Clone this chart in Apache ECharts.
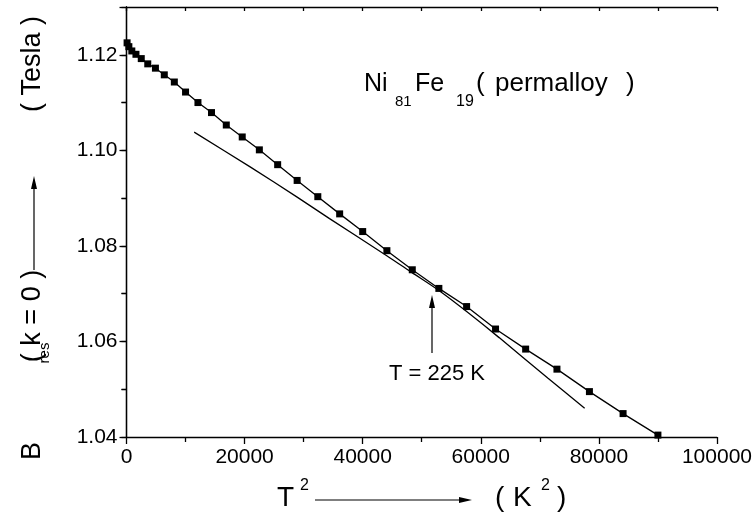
<!DOCTYPE html>
<html><head><meta charset="utf-8">
<script src="https://cdn.jsdelivr.net/npm/echarts@6/dist/echarts.min.js"></script>
<style>html,body{margin:0;padding:0;background:#fff}#c{width:755px;height:520px}</style>
</head><body><div id="c"></div>
<script>
// Temperatures (K) of the measured points; x = T^2
const tempK = [10,20,30,40,50,60,70,80,90,100,110,120,130,140,150,160,170,180,190,200,210,220,230,240,250,260,270,280,290,300];
const bres = [1.1225,1.1217,1.1208,1.1201,1.1192,1.1181,1.1172,1.1158,1.1143,1.1122,1.1100,1.1079,1.1053,1.1028,1.1001,1.0970,1.0937,1.0903,1.0867,1.0830,1.0790,1.0750,1.0711,1.0673,1.0626,1.0584,1.0542,1.0495,1.0449,1.0404];
// Reference (tangent) curve (x = T^2, y = B)
const tangentX = [11460, 20870, 29030, 34390, 44140, 48360, 52970, 57660, 63110, 71390, 77590];
const tangentY = [1.1038, 1.0966, 1.0901, 1.0857, 1.0779, 1.0744, 1.0706, 1.0662, 1.0608, 1.0523, 1.0460];
const xTicks = [0,20000,40000,60000,80000,100000];
const yTicks = [1.04,1.06,1.08,1.10,1.12];
const tangentT = 225;

const FONT = 'Liberation Sans, Arial, sans-serif';
const chart = echarts.init(document.getElementById('c'), null, {renderer:'canvas'});
const pts = tempK.map((t,i)=>[t*t, bres[i]]);
const tan = tangentX.map((x,i)=>[x, tangentY[i]]);
const axLine = {show:true, lineStyle:{color:'#000', width:1.3}};
const grid = {left:126.5, right:36.7, top:7, bottom:83};

function arrowUp(x, y0, y1){
  return [
    {type:'line', shape:{x1:x,y1:y0,x2:x,y2:y1+10}, style:{stroke:'#000', lineWidth:1.2}},
    {type:'polygon', shape:{points:[[x,y1],[x-3,y1+13],[x+3,y1+13]]}, style:{fill:'#000'}}
  ];
}
function arrowRight(y, x0, x1){
  return [
    {type:'line', shape:{x1:x0,y1:y,x2:x1-10,y2:y}, style:{stroke:'#000', lineWidth:1.2}},
    {type:'polygon', shape:{points:[[x1,y],[x1-13,y-3],[x1-13,y+3]]}, style:{fill:'#000'}}
  ];
}
// left-aligned text, y = vertical centre
function txt(x,y,s,size){
  return {type:'text', x:x, y:y, style:{text:s, fill:'#000', font:size+'px '+FONT, align:'left', verticalAlign:'middle'}};
}
// rotated text (reads bottom->top), (x,y) = centre
function rtxt(x,y,s,size){
  return {type:'text', x:x, y:y, rotation:Math.PI/2, style:{text:s, fill:'#000', font:size+'px '+FONT, align:'center', verticalAlign:'middle'}};
}

const graphics = [].concat(
  [txt(364,84,'Ni',25), txt(395,102,'81',15), txt(415,84,'Fe',25), txt(456,102,'19',16),
   txt(476,84,'(',26), txt(495,84,'permalloy',26), txt(626,84,')',26)],
  [txt(389,374,'T = '+tangentT+' K',22)],
  arrowUp(432, 353, 295),
  [txt(277,498,'T',28), txt(300,486,'2',16), txt(495,498,'(',28), txt(513,498,'K',28), txt(541,486,'2',16), txt(557,498,')',28)],
  arrowRight(500, 315, 472),
  [rtxt(33,451,'B',27), rtxt(45,353,'res',15), rtxt(33,316,'( k = 0 )',27), rtxt(33,64,'( Tesla )',27)],
  [{type:'line', shape:{x1:34,y1:270,x2:34,y2:187}, style:{stroke:'#000', lineWidth:1.2}},
   {type:'polygon', shape:{points:[[34,176],[31,189],[37,189]]}, style:{fill:'#000'}}]
);

chart.setOption({
  animation:false,
  backgroundColor:'#fff',
  grid: grid,
  xAxis:[
    {type:'value', position:'bottom', min:xTicks[0], max:xTicks[xTicks.length-1], interval:20000,
     axisLine:axLine, splitLine:{show:false},
     axisTick:{show:true, inside:false, length:7, lineStyle:{color:'#000', width:1.3}},
     minorTick:{show:true, splitNumber:2, length:5, lineStyle:{color:'#000', width:1.3}},
     axisLabel:{color:'#000', fontSize:21, fontFamily:FONT, margin:10, showMaxLabel:true, formatter:v=>String(v)}},
    {type:'value', position:'top', min:0, max:100000, interval:10000,
     axisLine:axLine, splitLine:{show:false},
     axisTick:{show:true, inside:true, length:4, lineStyle:{color:'#000', width:1.3}},
     axisLabel:{show:false}}
  ],
  yAxis:[
    {type:'value', position:'left', min:yTicks[0], max:1.13, interval:0.02,
     axisLine:axLine, splitLine:{show:false},
     axisTick:{show:true, inside:false, length:7, lineStyle:{color:'#000', width:1.3}},
     minorTick:{show:true, splitNumber:2, length:5, lineStyle:{color:'#000', width:1.3}},
     axisLabel:{color:'#000', fontSize:21, fontFamily:FONT, margin:9, showMaxLabel:false,
       formatter:v=>(Math.abs(v-1.13)<1e-6?'':v.toFixed(2))}},
    {type:'value', position:'right', min:1.04, max:1.13, interval:0.01,
     axisLine:axLine, splitLine:{show:false},
     axisTick:{show:true, inside:true, length:5, lineStyle:{color:'#000', width:1.3}},
     axisLabel:{show:false}}
  ],
  series:[
    {type:'line', data:pts, xAxisIndex:0, yAxisIndex:0, symbol:'rect', symbolSize:7,
     lineStyle:{color:'#000', width:1.3}, itemStyle:{color:'#000'}, z:3},
    {type:'line', data:tan, xAxisIndex:0, yAxisIndex:0, symbol:'none', smooth:0.25,
     lineStyle:{color:'#000', width:1.3}, z:2}
  ],
  graphic: graphics
});
</script></body></html>
